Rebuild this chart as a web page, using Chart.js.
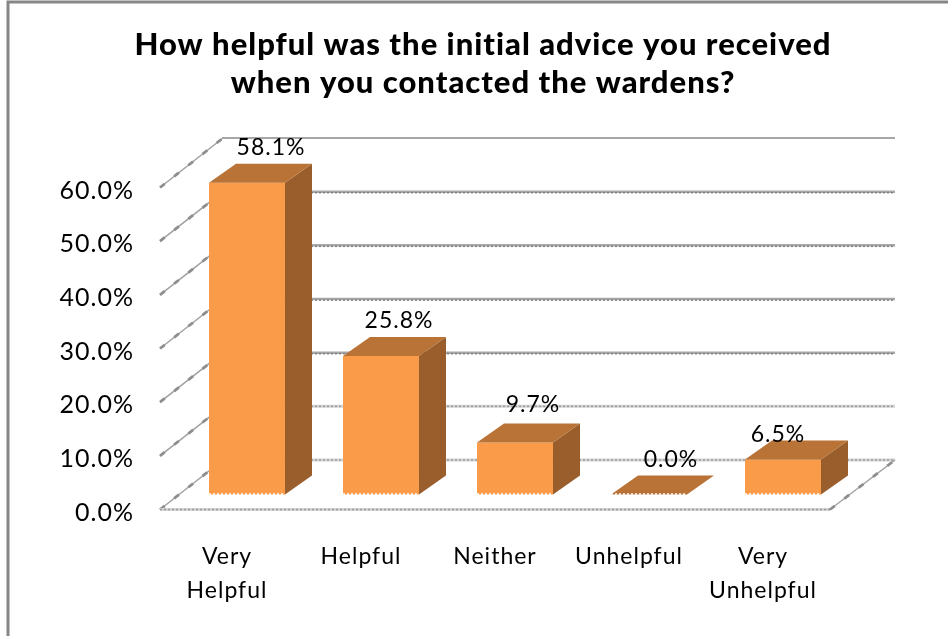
<!DOCTYPE html>
<html>
<head>
<meta charset="utf-8">
<style>
  html,body{margin:0;padding:0;background:#fff;}
  canvas{display:block;}
</style>
<script src="https://cdn.jsdelivr.net/npm/chart.js@4/dist/chart.umd.min.js"></script>
</head>
<body>
<canvas id="chart" width="948" height="636"></canvas>
<script>
// data
const categories = [['Very','Helpful'],['Helpful'],['Neither'],['Unhelpful'],['Very','Unhelpful']];
const percents = [58.1, 25.8, 9.7, 0.0, 6.5];
const titleLines = ['How helpful was the initial advice you received','when you contacted the wardens?'];

// look of the fake 3d box
const FRONT = '#F99B48', TOP = '#B97336', SIDE = '#9A5E2C';
const WALL_DX = 63, WALL_DX_R = 65, WALL_DY = -49.5;   // front plane -> back wall
const BOX_DX = 27, BOX_DY = -19;       // depth of one bar
const BAR_SHIFT = 20;                  // bars stand a bit behind the front edge
const labelNudge = [[24,-35],[18,-35],[18,-38],[22,-35],[-5,-25]];

function line(ctx, x1, y1, x2, y2){
  ctx.beginPath(); ctx.moveTo(x1,y1); ctx.lineTo(x2,y2); ctx.stroke();
}
function poly(ctx, pts, fill){
  ctx.fillStyle = fill;
  ctx.beginPath();
  pts.forEach((p,i)=> i ? ctx.lineTo(p[0],p[1]) : ctx.moveTo(p[0],p[1]));
  ctx.closePath(); ctx.fill();
}
// grey line with the dotted look of the old office render
function gridStroke(ctx, x1, y1, x2, y2, heavy){
  ctx.save();
  ctx.strokeStyle = heavy ? '#a8a8a8' : '#d4d4d4';
  ctx.lineWidth = heavy ? 2.5 : 3;
  line(ctx, x1, y1, x2, y2);
  ctx.strokeStyle = heavy ? '#808080' : '#9a9a9a';
  ctx.lineWidth = 1.5;
  ctx.setLineDash([2,2]);
  line(ctx, x1, y1 + (heavy ? 1 : 0), x2, y2 + (heavy ? 1 : 0));
  ctx.restore();
}
// side wall line: thin with darker blobs
function sideStroke(ctx, x1, y1, x2, y2){
  ctx.save();
  ctx.strokeStyle = '#a0a0a0'; ctx.lineWidth = 1.5;
  line(ctx, x1, y1, x2, y2);
  ctx.strokeStyle = '#8e8e8e'; ctx.lineWidth = 2.8;
  ctx.setLineDash([6,12]);
  line(ctx, x1, y1, x2, y2);
  ctx.restore();
}

const box3d = {
  id:'box3d',
  beforeDraw(chart){
    const ctx = chart.ctx;
    ctx.letterSpacing = '1px';
    // frame of the original picture
    ctx.save();
    ctx.strokeStyle = '#868686';
    ctx.lineWidth = 3;
    ctx.beginPath(); ctx.moveTo(8,636); ctx.lineTo(8,2); ctx.lineTo(948,2); ctx.stroke();
    ctx.restore();
  },
  afterDatasetsUpdate(chart){
    chart.getDatasetMeta(0).data.forEach(el => { el.x += BAR_SHIFT; });
  },
  beforeDatasetsDraw(chart){
    const ctx = chart.ctx, y = chart.scales.y, a = chart.chartArea;
    y.ticks.forEach(t => {
      const py = y.getPixelForValue(t.value);
      // back wall
      if(t.value === 60){
        ctx.save(); ctx.strokeStyle = '#a6a6a6'; ctx.lineWidth = 2;
        line(ctx, a.left + WALL_DX - 1, py + WALL_DY, a.right + WALL_DX_R, py + WALL_DY);
        ctx.restore();
      } else {
        gridStroke(ctx, a.left + WALL_DX, py + WALL_DY, a.right + WALL_DX_R, py + WALL_DY, t.value > 10);
      }
      // side wall
      sideStroke(ctx, a.left, py, a.left + WALL_DX, py + WALL_DY);
    });
    // floor
    gridStroke(ctx, a.left, a.bottom, a.right, a.bottom, false);
    sideStroke(ctx, a.right, a.bottom, a.right + WALL_DX_R, a.bottom + WALL_DY);
  },
  afterDatasetsDraw(chart){
    const ctx = chart.ctx;
    chart.getDatasetMeta(0).data.forEach(el => {
      const l = el.x - el.width/2, r = el.x + el.width/2;
      poly(ctx, [[r,el.y],[r+BOX_DX,el.y+BOX_DY],[r+BOX_DX,el.base+BOX_DY],[r,el.base]], SIDE);
      poly(ctx, [[l,el.y],[l+BOX_DX,el.y+BOX_DY],[r+BOX_DX,el.y+BOX_DY],[r,el.y]], TOP);
      // serrated bottom edge
      ctx.save();
      ctx.strokeStyle = '#fff'; ctx.lineWidth = 1.5; ctx.setLineDash([2,2]);
      line(ctx, l, el.base - 0.5, r, el.base - 0.5);
      ctx.restore();
    });
    // value labels
    ctx.save();
    ctx.font = "23px Lato";
    ctx.fillStyle = '#000';
    ctx.textAlign = 'center';
    ctx.textBaseline = 'middle';
    chart.getDatasetMeta(0).data.forEach((el,i) => {
      ctx.fillText(percents[i].toFixed(1)+'%', el.x + labelNudge[i][0], el.y + labelNudge[i][1]);
    });
    ctx.restore();
  }
};

new Chart(document.getElementById('chart'), {
  type:'bar',
  data:{
    labels:categories,
    datasets:[{
      data:percents,
      yAxisID:'yBars',
      backgroundColor:FRONT,
      barPercentage:0.567,
      categoryPercentage:1,
      clip:false
    }]
  },
  options:{
    responsive:false,
    animation:false,
    events:[],
    devicePixelRatio:1,
    layout:{ padding:{ left:18, right:0, top:0, bottom:0 } },
    plugins:{
      legend:{ display:false },
      tooltip:{ enabled:false },
      title:{
        display:true,
        text:titleLines,
        color:'#000',
        font:{ family:'Lato', size:31, weight:900, lineHeight:38/31 },
        padding:{ top:26, bottom:85.5 }
      }
    },
    scales:{
      x:{
        grid:{ display:false, drawTicks:false },
        border:{ display:false },
        ticks:{ color:'#000', font:{ family:'Lato', size:23, lineHeight:1.5 }, padding:29.5, maxRotation:0, autoSkip:false },
        afterFit(s){ s.height = 126.5; }
      },
      y:{
        position:'left',
        min:0, max:60,
        grid:{ display:false, drawTicks:false },
        border:{ display:false },
        ticks:{ stepSize:10, color:'#000', padding:26, labelOffset:3, font:{ family:'Lato', size:25 }, callback:v => v.toFixed(1)+'%' },
        afterFit(s){ s.width = 142; }
      },
      // same step as y, but the bars sit 15px above the front edge
      yBars:{
        position:'right',
        min:-2.8, max:57.2,
        grid:{ display:false, drawTicks:false },
        border:{ display:false },
        ticks:{ display:false },
        afterFit(s){ s.width = 118; }
      }
    }
  },
  plugins:[box3d]
});
</script>
</body>
</html>
